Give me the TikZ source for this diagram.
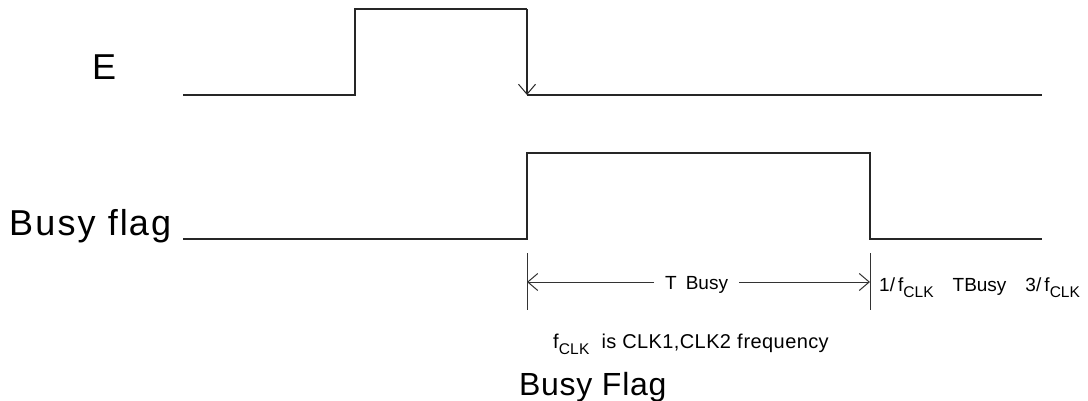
\documentclass[tikz,border=0pt]{standalone}
\usepackage{fontspec}
\setmainfont{Liberation Sans}
\usetikzlibrary{arrows.meta}
\newcommand\lowsub[1]{\raisebox{-0.32em}{\fontsize{15.5}{16}\selectfont #1}}
\begin{document}
\begin{tikzpicture}[x=1pt,y=-1pt,
  sig/.style={line width=1.2pt, black!85},
  thin/.style={line width=1pt, black!80},
  lbl/.style={inner sep=0pt, anchor=base west},
  barb/.style={-{Straight Barb[length=10pt,width=17pt,line width=1pt]}},
  big/.style={font=\fontsize{36}{36}\selectfont},
  mid/.style={font=\fontsize{32}{32}\selectfont},
  small/.style={font=\fontsize{19}{20}\selectfont}]
\useasboundingbox (0,0) rectangle (1088,401);
% labels
\node[lbl, big] (lblE) at (92,80) {E};
\node[lbl, big] (lblBusy) at (9,236) {\addfontfeature{LetterSpace=6}Busy f\kern2pt l\kern1pt ag};
% E signal
\coordinate (e0) at (183,95);
\coordinate (e1) at (355,95);
\coordinate (e2) at (355,9);
\coordinate (e3) at (527,9);
\coordinate (e4) at (527,95);
\coordinate (e5) at (1042,95);
\draw[sig] (e0) -- (e1) -- (e2) -- (e3);
\draw[sig, barb] (e3) -- (e4);
\draw[sig] (e4) -- (e5);
% Busy signal
\coordinate (b0) at (183,239);
\coordinate (b1) at (527,239);
\coordinate (b2) at (527,153);
\coordinate (b3) at (870,153);
\coordinate (b4) at (870,239);
\coordinate (b5) at (1042,239);
\draw[sig] (b0) -- (b1) -- (b2) -- (b3) -- (b4) -- (b5);
% markers
\coordinate (m1t) at (527,253);
\coordinate (m1b) at (527,310);
\coordinate (m2t) at (870,253);
\coordinate (m2b) at (870,310);
\draw[thin] (m1t) -- (m1b);
\draw[thin] (m2t) -- (m2b);
\coordinate (aL) at (527,282);
\coordinate (aR) at (870,282);
\node[lbl, small, inner xsep=11pt] (tb) at (654,289) {T\hspace{9pt}Busy};
\draw[thin, barb] (tb.west |- aL) -- (aL);
\draw[thin, barb] (tb.east |- aR) -- (aR);
\node[lbl, small] (timing) at (879,291) {1/\,f\lowsub{CLK}\hspace{19pt}TBusy\hspace{19pt}3/\,f\lowsub{CLK}};
\node[lbl, font=\fontsize{20}{20}\selectfont] (note) at (553,348) {\addfontfeature{LetterSpace=2}f\lowsub{CLK}\hspace{12pt}is CLK1,CLK2 f\kern1pt requency};
\node[lbl, mid] (title) at (519,395) {\addfontfeature{LetterSpace=2}Busy F\kern1pt lag};
\end{tikzpicture}
\end{document}
